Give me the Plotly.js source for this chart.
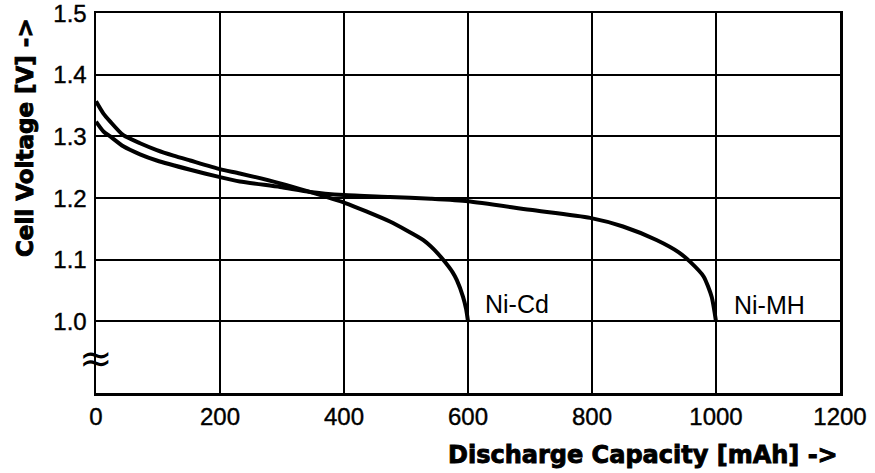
<!DOCTYPE html>
<html>
<head>
<meta charset="utf-8">
<script src="https://cdn.plot.ly/plotly-3.0.1.min.js"></script>
<style>
  html, body { margin: 0; padding: 0; background: #fff; }
  #chart { width: 875px; height: 473px; }
  /* heavier strokes for the axis titles and tick numbers */
  #chart g.annotation[data-index="0"] text,
  #chart g.annotation[data-index="1"] text { stroke: #000; stroke-width: 0.9px; }
  #chart .xtick text, #chart .ytick text { stroke: #000; stroke-width: 0.4px; }
</style>
</head>
<body>
<div id="chart"></div>
<script>
// Discharge curves: capacity (mAh) vs cell voltage (V)
const nicdCapacity = [0, 12, 23, 44, 71, 98, 125, 152, 200, 232, 297, 345, 402, 437, 474, 528, 545, 560, 575, 582, 592, 597, 600];
const nicdVoltage  = [1.357, 1.337, 1.324, 1.302, 1.289, 1.278, 1.269, 1.261, 1.247, 1.240, 1.224, 1.210, 1.192, 1.178, 1.162, 1.132, 1.117, 1.100, 1.080, 1.067, 1.040, 1.020, 1.000];

const nimhCapacity = [0, 12, 23, 44, 71, 98, 152, 200, 232, 297, 345, 400, 474, 540, 600, 700, 797, 850, 904, 940, 958, 980, 993, 1000];
const nimhVoltage  = [1.324, 1.308, 1.300, 1.284, 1.271, 1.261, 1.246, 1.234, 1.227, 1.218, 1.210, 1.205, 1.202, 1.199, 1.195, 1.181, 1.168, 1.154, 1.132, 1.112, 1.097, 1.073, 1.040, 1.000];

const xTicks = [0, 200, 400, 600, 800, 1000, 1200];
const yTicks = [1.0, 1.1, 1.2, 1.3, 1.4, 1.5];
const yTickText = ['1.0', '1.1', '1.2', '1.3', '1.4', '1.5'];

const seriesLabels = ['Ni-Cd', 'Ni-MH'];

const curve = (x, y, name) => ({
  x: x, y: y, name: name, type: 'scatter', mode: 'lines',
  line: { color: '#000', width: 4, shape: 'spline', smoothing: 0.6 },
  hoverinfo: 'skip'
});

const tickFont = { family: 'Liberation Sans, Arial, sans-serif', size: 24, color: '#000' };
const titleFont = (size) => ({ family: 'DejaVu Sans, sans-serif', size: size, color: '#000', weight: 'bold' });
const labelFont = { family: 'Liberation Sans, Arial, sans-serif', size: 25, color: '#000' };

const layout = {
  width: 875, height: 473,
  margin: { l: 96, r: 35, t: 13, b: 80 },
  paper_bgcolor: '#fff', plot_bgcolor: '#fff',
  showlegend: false,
  xaxis: {
    range: [0, 1200], tickvals: xTicks, ticktext: xTicks.map(String),
    showgrid: true, gridcolor: '#000', gridwidth: 2,
    showline: true, linecolor: '#000', linewidth: 2.5, mirror: true,
    zeroline: false, ticks: '', tickfont: tickFont, ticklabelstandoff: 1
  },
  yaxis: {
    range: [0.884, 1.5002], tickvals: yTicks, ticktext: yTickText,
    showgrid: true, gridcolor: '#000', gridwidth: 2,
    showline: true, linecolor: '#000', linewidth: 2.5, mirror: true,
    zeroline: false, ticks: '', tickfont: tickFont, ticklabelstandoff: 2,
    ticklabeloverflow: 'allow'
  },
  annotations: [
    { text: 'Discharge Capacity [mAh] ->', xref: 'paper', yref: 'paper',
      x: 1.0, y: -0.163, xanchor: 'right', yanchor: 'middle',
      showarrow: false, font: titleFont(24) },
    { text: 'Cell Voltage [V] ->', xref: 'paper', yref: 'paper',
      x: -0.0954, y: 0.671, xanchor: 'center', yanchor: 'middle', textangle: -90,
      showarrow: false, font: titleFont(23) },
    { text: seriesLabels[0], xref: 'x', yref: 'y', x: 624, y: 1.028,
      xanchor: 'left', yanchor: 'middle', showarrow: false, font: labelFont },
    { text: seriesLabels[1], xref: 'x', yref: 'y', x: 1026, y: 1.026,
      xanchor: 'left', yanchor: 'middle', showarrow: false, font: labelFont },
    // axis break mark
    { text: '≈', xref: 'x', yref: 'y', x: 0, y: 0.94,
      xanchor: 'center', yanchor: 'middle', showarrow: false,
      font: { family: 'DejaVu Sans, sans-serif', size: 40, color: '#000' } }
  ]
};

Plotly.newPlot('chart', [
  curve(nicdCapacity, nicdVoltage, seriesLabels[0]),
  curve(nimhCapacity, nimhVoltage, seriesLabels[1])
], layout, { staticPlot: true, displayModeBar: false });
</script>
</body>
</html>
